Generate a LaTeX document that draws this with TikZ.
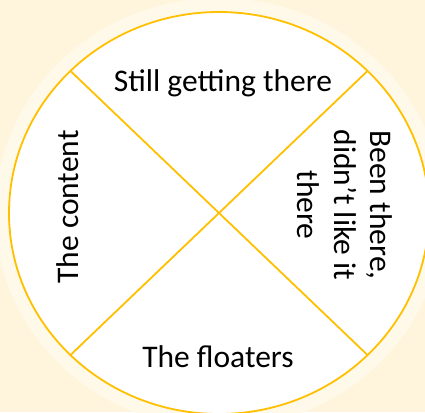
\documentclass[tikz,border=0pt]{standalone}
\usepackage{fontspec}
\setmainfont{Carlito}
\usetikzlibrary{positioning}

\definecolor{cream}{RGB}{255,244,220}
\definecolor{glow}{RGB}{255,249,234}
\definecolor{gold}{RGB}{255,192,0}

\begin{document}
\begin{tikzpicture}[
    x=1pt, y=-1pt,
    every node/.style={
        inner sep=0pt,
        font=\fontsize{31.5}{36.5}\selectfont
    },
    rim/.style={draw=gold, line width=1.8pt}
]
\useasboundingbox (0,0) rectangle (425,412);
\fill[cream] (0,0) rectangle (425,412);

% soft halo and the disc
\draw[glow, line width=14pt] (219,213) ellipse [x radius=217, y radius=208];
\filldraw[rim, fill=white] (219,213) ellipse [x radius=210, y radius=201];

\coordinate (nw) at (70.5,71);
\coordinate (ne) at (367.5,71);
\coordinate (sw) at (70.5,355);
\coordinate (se) at (367.5,355);

\draw[rim] (nw) -- (se);
\draw[rim] (ne) -- (sw);

\node[anchor=base] (top) at (223,91) {Still getting there};
\node[anchor=base] (bot) at (218,367) {The floaters};
\node[rotate=90] (lft) at (68,207) {The content};
\node[rotate=-90, align=center] (rgt) at (345,205) {Been there,\\didn’t like it\\there};

\end{tikzpicture}
\end{document}
